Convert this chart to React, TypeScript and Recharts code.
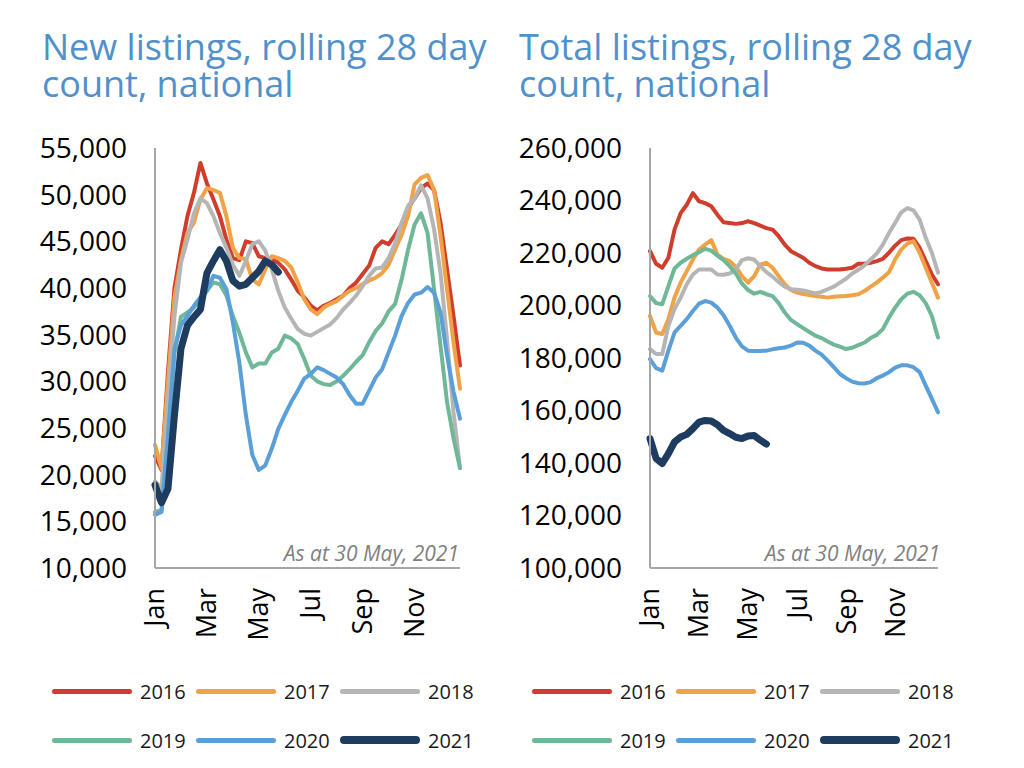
import { LineChart, Line, XAxis, YAxis } from 'recharts';

const years = ['2016', '2017', '2018', '2019', '2020', '2021'];
const yearColors = ['#d03d2c', '#f0a246', '#b5b5b5', '#6fb897', '#5b9fd8', '#1d3c5f'];

const monthLabels = ['Jan', 'Mar', 'May', 'Jul', 'Sep', 'Nov'];
const monthTickWeeks = [0, 8, 16, 24, 32, 40];

const newTicks = [10000, 15000, 20000, 25000, 30000, 35000, 40000, 45000, 50000, 55000];
const totalTicks = [100000, 120000, 140000, 160000, 180000, 200000, 220000, 240000, 260000];

// new listings, rolling 28 day count (weekly points)
const new2016 = [22000, 20500, 31000, 40000, 44100, 47700, 50200, 53400, 51200, 49500, 47700, 45200, 43200, 43000, 45000, 44800, 43400, 43200, 43100, 42700, 42000, 40900, 39700, 39000, 38100, 37600, 38100, 38400, 38800, 39200, 40000, 40600, 41500, 42400, 44300, 45000, 44700, 45700, 46800, 48600, 49600, 50700, 51200, 50500, 47000, 42000, 37000, 31700];
const new2017 = [23200, 20700, 30000, 39000, 43000, 45900, 47000, 49500, 50700, 50500, 50200, 47700, 44300, 43200, 43100, 40900, 40400, 42000, 43400, 43200, 42900, 42200, 40600, 38800, 37700, 37200, 37900, 38300, 38600, 39200, 39700, 40000, 40400, 40800, 41100, 41600, 42500, 44100, 45700, 47700, 51100, 51800, 52100, 50500, 45600, 39900, 34200, 29200];
const new2018 = [19300, 18500, 28000, 37000, 42700, 45200, 48000, 49600, 49100, 47700, 45900, 44300, 42500, 41300, 42900, 44700, 45000, 44000, 42000, 39700, 37900, 36700, 35600, 35100, 34900, 35300, 35700, 36100, 36800, 37700, 38400, 39200, 40200, 41300, 42100, 42200, 43200, 44800, 47000, 48800, 49600, 51000, 49600, 46300, 41600, 34500, 26700, 20700];
const new2019 = [16000, 16200, 24000, 33000, 36900, 37400, 37900, 38800, 39700, 40600, 40400, 39200, 37000, 35200, 33100, 31500, 31900, 31900, 33100, 33500, 34900, 34600, 34000, 32400, 30600, 30000, 29700, 29600, 30000, 30600, 31300, 32100, 32800, 34200, 35400, 36200, 37500, 38300, 40900, 44100, 46800, 48000, 45900, 39900, 33800, 27800, 23900, 20700];
const new2020 = [15700, 16000, 24000, 33500, 36000, 37000, 38100, 39000, 39700, 41300, 41100, 39900, 36300, 32000, 26400, 22100, 20500, 21000, 22800, 24900, 26400, 27800, 29000, 30300, 30800, 31500, 31200, 30800, 30400, 29700, 28500, 27600, 27600, 29000, 30400, 31300, 33100, 34900, 37000, 38400, 39300, 39500, 40100, 39500, 37400, 32800, 28900, 26000];
const new2021 = [18900, 17000, 18500, 26400, 33500, 36000, 36900, 37700, 41600, 42900, 44100, 42900, 40800, 40200, 40400, 41100, 41800, 42900, 42500, 41700];

// total listings, rolling 28 day count
const tot2016 = [220700, 215900, 214400, 218200, 228900, 235200, 238400, 242800, 239700, 239000, 237800, 234600, 231700, 231400, 231100, 231400, 232100, 231400, 230400, 229500, 228900, 226400, 223200, 220700, 219400, 218200, 216300, 215000, 214100, 213700, 213700, 213700, 214000, 214400, 215900, 215900, 216300, 216900, 217800, 220100, 222800, 224900, 225500, 225400, 222000, 216900, 211800, 208100];
const tot2017 = [196000, 189700, 189100, 194800, 203000, 208700, 213100, 217500, 221300, 223200, 224900, 219400, 217800, 216900, 214800, 211200, 208700, 211200, 215600, 216300, 214400, 211200, 208100, 205900, 204900, 204400, 204000, 203600, 203300, 203000, 203300, 203500, 203600, 203900, 204300, 205500, 207200, 208700, 210600, 212700, 217500, 221300, 223600, 224500, 220100, 214400, 208700, 203000];
const tot2018 = [183400, 181500, 181500, 192300, 198600, 203000, 208100, 211800, 213700, 213700, 213700, 211800, 211700, 212200, 213700, 217300, 218000, 217500, 215000, 212700, 211000, 208900, 207200, 206200, 206000, 205700, 205200, 204600, 205200, 206200, 207200, 208700, 210200, 212200, 213600, 215300, 217500, 219800, 223200, 227600, 231400, 235500, 237100, 236200, 232700, 225800, 220100, 212500];
const tot2019 = [203600, 200900, 200500, 207400, 214100, 216300, 217800, 219200, 220300, 221600, 220900, 219000, 217300, 215000, 212200, 208400, 205900, 204500, 205200, 204300, 203600, 200900, 197300, 194500, 192900, 191400, 189900, 188500, 187600, 186300, 185100, 184300, 183400, 183900, 184900, 185900, 187600, 188800, 191000, 195400, 199200, 202400, 204500, 205200, 203900, 200900, 196000, 187800];
const tot2020 = [179600, 176100, 175200, 182800, 189700, 192300, 194800, 197900, 200700, 201700, 201100, 199200, 196300, 192300, 187800, 184400, 182800, 182700, 182700, 182800, 183300, 183700, 184000, 184700, 185900, 185800, 184700, 182800, 181300, 179000, 176500, 173900, 172300, 171000, 170400, 170300, 170800, 172300, 173300, 174600, 176300, 177200, 177200, 176500, 174600, 169500, 164400, 159400];
const tot2021 = [149300, 141700, 139800, 143600, 148000, 149900, 150900, 153100, 155600, 156200, 156000, 154600, 152400, 151200, 149800, 149300, 150300, 150500, 148700, 147200];

const FONT = '"Open Sans", sans-serif';

function buildRows(series: number[][]) {
  return series[0].map((_, i) => {
    const row: Record<string, number | undefined> = { week: i };
    years.forEach((y, k) => {
      row['y' + y] = series[k][i];
    });
    return row;
  });
}

function MonthTick({ x, y, payload }: any) {
  const label = monthLabels[monthTickWeeks.indexOf(payload.value)];
  return (
    <text
      x={x}
      y={y}
      transform={`rotate(-90 ${x} ${y})`}
      textAnchor="end"
      dy="0.35em"
      fontSize={27}
      fontFamily={FONT}
      fill="#000"
    >
      {label}
    </text>
  );
}

type PanelProps = {
  left: number;
  width: number;
  rows: Record<string, number | undefined>[];
  domain: [number, number];
  ticks: number[];
};

function Panel({ left, width, rows, domain, ticks }: PanelProps) {
  return (
    <div style={{ position: 'absolute', left, top: 110 }}>
      <LineChart width={width} height={540} data={rows} margin={{ top: 38, right: 20, left: 0, bottom: 0 }}>
        <XAxis
          dataKey="week"
          type="number"
          domain={[0, 47]}
          ticks={monthTickWeeks}
          tick={<MonthTick />}
          tickLine={false}
          tickSize={0}
          tickMargin={20}
          height={82}
          interval={0}
          axisLine={{ stroke: '#a6a6a6', strokeWidth: 2 }}
        />
        <YAxis
          domain={domain}
          ticks={ticks}
          width={155}
          tickLine={false}
          tickSize={0}
          tickMargin={28}
          interval={0}
          axisLine={{ stroke: '#a6a6a6', strokeWidth: 2 }}
          tick={{ fill: '#000', fontSize: 28, fontFamily: FONT }}
          tickFormatter={(v: number) => v.toLocaleString('en-US')}
        />
        {years.map((y, k) => (
          <Line
            key={y}
            type="linear"
            dataKey={'y' + y}
            stroke={yearColors[k]}
            strokeWidth={y === '2021' ? 7 : 4}
            strokeLinejoin="round"
            strokeLinecap="round"
            dot={false}
            activeDot={false}
            isAnimationActive={false}
          />
        ))}
      </LineChart>
    </div>
  );
}

function Title({ left, text }: { left: number; text: string }) {
  return (
    <div
      style={{
        position: 'absolute',
        left,
        top: 28,
        fontSize: 36,
        lineHeight: '37px',
        color: '#5090cb',
        fontFamily: FONT,
        whiteSpace: 'pre',
      }}
    >
      {text}
    </div>
  );
}

function Note({ right }: { right: number }) {
  return (
    <div
      style={{
        position: 'absolute',
        left: right - 300,
        width: 300,
        top: 543,
        textAlign: 'right',
        fontSize: 21,
        lineHeight: '21px',
        fontStyle: 'italic',
        color: '#808080',
        fontFamily: FONT,
      }}
    >
      As at 30 May, 2021
    </div>
  );
}

function Legend({ left }: { left: number }) {
  return (
    <>
      {years.map((y, k) => {
        const col = k % 3;
        const rowY = k < 3 ? 691 : 740;
        const thick = y === '2021' ? 8 : 5;
        return (
          <div
            key={y}
            style={{
              position: 'absolute',
              left: left + col * 144,
              top: rowY - 15,
              height: 30,
              display: 'flex',
              alignItems: 'center',
            }}
          >
            <div style={{ width: 80, height: thick, borderRadius: thick / 2, background: yearColors[k] }} />
            <span style={{ marginLeft: 8, fontSize: 20, color: '#1a1a1a', fontFamily: FONT }}>{y}</span>
          </div>
        );
      })}
    </>
  );
}

export default function App() {
  const newRows = buildRows([new2016, new2017, new2018, new2019, new2020, new2021]);
  const totRows = buildRows([tot2016, tot2017, tot2018, tot2019, tot2020, tot2021]);
  return (
    <div style={{ position: 'absolute', left: 0, top: 0, width: 1024, height: 768, background: '#fff', overflow: 'hidden' }}>
      <Title left={42} text={'New listings, rolling 28 day\ncount, national'} />
      <Title left={519} text={'Total listings, rolling 28 day\ncount, national'} />
      <Panel left={0} width={480} rows={newRows} domain={[10000, 55000]} ticks={newTicks} />
      <Panel left={495} width={463} rows={totRows} domain={[100000, 260000]} ticks={totalTicks} />
      <Note right={459} />
      <Note right={940} />
      <Legend left={52} />
      <Legend left={532} />
    </div>
  );
}
